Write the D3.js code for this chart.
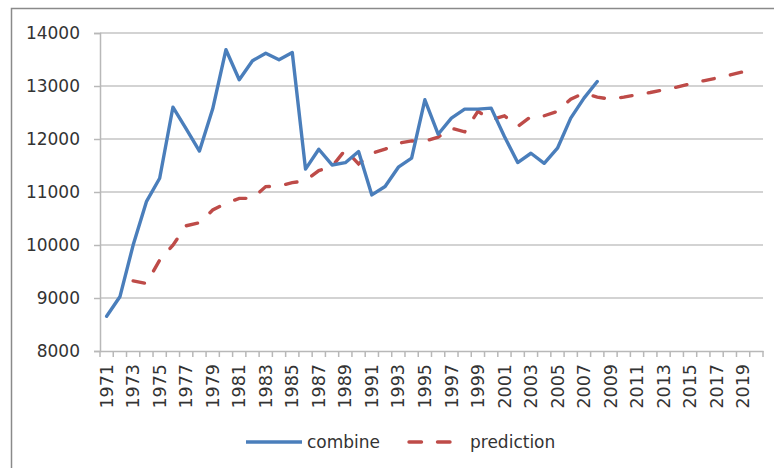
<!DOCTYPE html>
<html>
<head>
<meta charset="utf-8">
<script src="https://cdn.jsdelivr.net/npm/d3@7"></script>
<style>
  body { margin: 0; background: #fff; }
  svg { display: block; }
  .tick text { font-family: "DejaVu Sans", sans-serif; fill: #333; }
</style>
</head>
<body>
<svg id="chart" width="774" height="468"></svg>
<script>
// years on the category axis
var years = d3.range(1971, 2021);

// combine series, 1971 - 2008
var combineYears = d3.range(1971, 2009);
var combineValues = [
    8656, 9022, 9998, 10817, 11260, 12600, 12190, 11772, 12570, 13685,
    13117, 13477, 13617, 13495, 13633, 11432, 11807, 11510, 11553, 11763,
    10945, 11103, 11468, 11638, 12740, 12090, 12393, 12563, 12563, 12582,
    12047, 11555, 11731, 11542, 11826, 12393, 12771, 13085
];

// prediction series, 1973 - 2019
var predictionYears = d3.range(1973, 2020);
var predictionValues = [
    9323, 9274, 9715, 9998, 10363, 10420, 10660, 10786, 10880, 10880,
    11102, 11113, 11176, 11214, 11405, 11480, 11794, 11530, 11731, 11807,
    11920, 11964, 11960, 12035, 12204, 12134, 12521, 12362, 12438, 12236,
    12423, 12438, 12521, 12752, 12865, 12790, 12752, 12790, 12834, 12877,
    12928, 12979, 13041, 13098, 13149, 13206, 13268
];

var yTicks = [8000, 9000, 10000, 11000, 12000, 13000, 14000];

var svg = d3.select('#chart');

// outer chart frame
svg.append('rect')
    .attr('x', 11.5).attr('y', 8.5)
    .attr('width', 820).attr('height', 520)
    .attr('fill', 'none')
    .attr('stroke', '#8a8a8a')
    .attr('stroke-width', 1.5);

var plot = {left: 100, right: 763, top: 33, bottom: 351};

var xScale = d3.scaleBand()
    .domain(years)
    .range([plot.left, plot.right])
    .padding(0);

var yScale = d3.scaleLinear()
    .domain([8000, 14000])
    .range([plot.bottom, plot.top]);

var xc = function (yr) { return xScale(yr) + xScale.bandwidth() / 2; };

// gridlines
svg.append('g')
    .selectAll('line')
    .data(yTicks.slice(1))
    .enter()
    .append('line')
        .attr('x1', plot.left).attr('x2', plot.right)
        .attr('y1', d => yScale(d)).attr('y2', d => yScale(d))
        .attr('stroke', '#c4c4c4')
        .attr('stroke-width', 1.5);

// y axis
var yAxis = svg.append('g')
    .attr('transform', 'translate(' + plot.left + ',0)')
    .call(d3.axisLeft(yScale).tickValues(yTicks).tickSize(6).tickPadding(14).tickFormat(d3.format('d')));
yAxis.select('.domain').attr('stroke', '#b8b8b8').attr('stroke-width', 1.5);
yAxis.selectAll('.tick line').attr('stroke', '#b8b8b8').attr('stroke-width', 1.5);
yAxis.selectAll('.tick text').attr('font-size', '17px');

// x axis line and tick marks at category boundaries
var xAxis = svg.append('g')
    .attr('transform', 'translate(0,' + plot.bottom + ')')
    .call(d3.axisBottom(xScale)
        .tickValues(years.filter(d => d % 2 === 1 && d <= 2019))
        .tickSize(0)
        .tickPadding(14));
xAxis.select('.domain').attr('stroke', '#b8b8b8').attr('stroke-width', 1.5);
xAxis.selectAll('.tick text')
    .attr('font-size', '17.5px')
    .attr('transform', 'rotate(-90)')
    .attr('text-anchor', 'end')
    .attr('dy', '0.35em')
    .attr('x', -13)
    .attr('y', 0);

xAxis.append('g')
    .selectAll('line')
    .data(years.map(d => xScale(d)).concat([plot.right]))
    .enter()
    .append('line')
        .attr('x1', d => d).attr('x2', d => d)
        .attr('y1', 0).attr('y2', 6)
        .attr('stroke', '#b8b8b8')
        .attr('stroke-width', 1.5);

// lines
var line = d3.line()
    .x(d => xc(d[0]))
    .y(d => yScale(d[1]));

svg.append('path')
    .datum(d3.zip(predictionYears, predictionValues))
    .attr('d', line)
    .attr('fill', 'none')
    .attr('stroke', '#be4b48')
    .attr('stroke-width', 3.4)
    .attr('stroke-linecap', 'round')
    .attr('stroke-dasharray', '11.5,16.5');

svg.append('path')
    .datum(d3.zip(combineYears, combineValues))
    .attr('d', line)
    .attr('fill', 'none')
    .attr('stroke', '#4a7ebb')
    .attr('stroke-width', 3.4)
    .attr('stroke-linejoin', 'round')
    .attr('stroke-linecap', 'round');

// legend
var legend = svg.append('g')
    .attr('font-family', '"DejaVu Sans", sans-serif')
    .attr('font-size', '17px')
    .attr('fill', '#333');

legend.append('line')
    .attr('x1', 246).attr('x2', 302)
    .attr('y1', 442).attr('y2', 442)
    .attr('stroke', '#4a7ebb')
    .attr('stroke-width', 3.4);
legend.append('text')
    .attr('x', 307).attr('y', 442)
    .attr('dy', '0.35em')
    .text('combine');

legend.append('line')
    .attr('x1', 409).attr('x2', 452)
    .attr('y1', 442).attr('y2', 442)
    .attr('stroke', '#be4b48')
    .attr('stroke-width', 3.4)
    .attr('stroke-linecap', 'round')
    .attr('stroke-dasharray', '12.5,16');
legend.append('text')
    .attr('x', 470).attr('y', 442)
    .attr('dy', '0.35em')
    .text('prediction');
</script>
</body>
</html>
